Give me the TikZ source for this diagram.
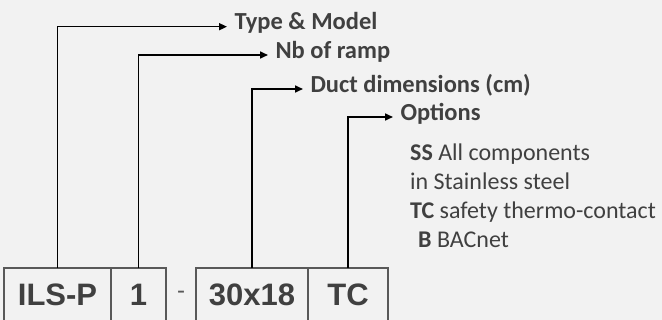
\documentclass[tikz,border=0pt]{standalone}
\usepackage{fontspec}
\setmainfont{Carlito}
\newfontfamily\boxfont{Liberation Sans}
\usetikzlibrary{arrows.meta,positioning}
\definecolor{codebg}{RGB}{242,242,242}
\definecolor{codetext}{RGB}{64,64,64}
\definecolor{codeframe}{RGB}{89,89,89}

\begin{document}
\begin{tikzpicture}[
    x=1pt, y=-1pt,
    codebox/.style={draw=codeframe, line width=1.6pt, rectangle, minimum height=54pt, text height=22pt, text depth=0pt, inner sep=0pt, outer sep=0pt, font=\boxfont\bfseries\fontsize{31}{31}\selectfont, text=codetext},
    lbl/.style={anchor=west, inner xsep=7.5pt, inner ysep=0pt, outer sep=0pt, text height=11pt, text depth=4.5pt, font=\bfseries\fontsize{24.5}{28}\selectfont, text=codetext},
    arrow/.style={-{Triangle[length=8pt,width=7pt]}, line width=1.6pt},
    node distance=0pt
]
\fill[codebg] (0,0) rectangle (662,320);
\useasboundingbox (0,0) rectangle (662,320);

\node[codebox, anchor=north west, minimum width=107pt] (model) at (4,268) {ILS-P};
\node[codebox, minimum width=55pt, right=of model] (ramp) {1};
\node[minimum width=30pt, inner sep=0pt, outer sep=0pt, right=of ramp, font=\boxfont\fontsize{24}{24}\selectfont, text=codeframe] (dash) {-};
\node[codebox, minimum width=112pt, right=of dash] (duct) {30x18};
\node[codebox, minimum width=80pt, right=of duct] (opt) {TC};

\node[lbl] (typelbl) at (227,26.7) {Type \& Model};
\node[lbl] (ramplbl) at (268,55) {Nb of ramp};
\node[lbl] (ductlbl) at (303,89) {Duct dimensions (cm)};
\node[lbl] (optlbl) at (393,117) {Options};

\draw[arrow] (model.north) |- (typelbl.west);
\draw[arrow] (ramp.north) |- (ramplbl.west);
\draw[arrow] (duct.north) |- (ductlbl.west);
\draw[arrow] (opt.north) |- (optlbl.west);

\node[anchor=north west, inner sep=0pt, align=left, font=\fontsize{24}{29}\selectfont, text=codetext] (optlist) at (410,144) {\textbf{SS} All components\\in Stainless steel\\\textbf{TC} safety thermo-contact\\\hspace*{8pt}\textbf{B} BACnet};
\end{tikzpicture}
\end{document}
